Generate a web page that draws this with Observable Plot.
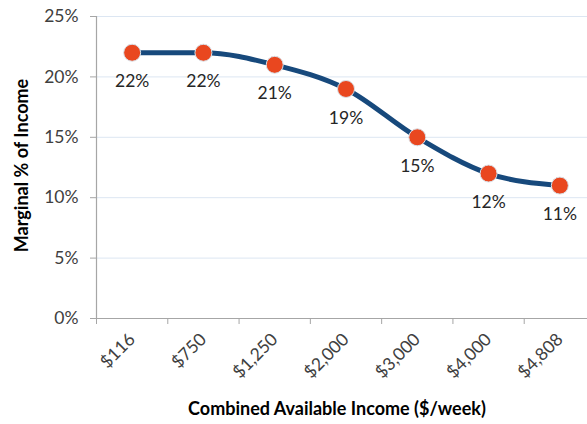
<!DOCTYPE html>
<html>
<head>
<meta charset="utf-8">
<script src="https://cdn.jsdelivr.net/npm/d3@7"></script>
<script src="https://cdn.jsdelivr.net/npm/@observablehq/plot@0.6"></script>
<style>
  html, body { margin: 0; padding: 0; background: #fff; }
  #chart svg { display: block; }
</style>
</head>
<body>
<div id="chart"></div>
<script>
// Combined available income brackets ($/week) and marginal share of income (%)
const incomeBrackets = ["$116", "$750", "$1,250", "$2,000", "$3,000", "$4,000", "$4,808"];
const marginalPct = [22, 22, 21, 19, 15, 12, 11];
const yTicks = [0, 5, 10, 15, 20, 25];
const gridLevels = [5, 10, 15, 20, 25];

// Each bracket sits in the middle of its own slot on an index axis
const rows = incomeBrackets.map((label, i) => ({label, pos: i + 0.5, value: marginalPct[i]}));
const slotEdges = d3.range(incomeBrackets.length + 1);

const font = "Lato, 'Open Sans', sans-serif";
const labelSize = 17.5;

const chart = Plot.plot({
  width: 587,
  height: 424,
  marginTop: 16,
  marginBottom: 106,
  marginLeft: 96,
  marginRight: 0,
  style: {fontFamily: font, fontSize: labelSize + "px", color: "#404040", background: "#fff"},
  x: {domain: [0, incomeBrackets.length], range: [96, 595]},
  y: {domain: [0, 25]},
  marks: [
    // light horizontal gridlines
    Plot.ruleY(gridLevels, {stroke: "#dce6f2", strokeWidth: 1}),
    // baseline and left axis line
    Plot.ruleY([0], {stroke: "#a6a6a6", strokeWidth: 1.2}),
    Plot.ruleX([0], {y1: 0, y2: 25, stroke: "#a6a6a6", strokeWidth: 1.2}),
    // y axis ticks and labels
    Plot.axisY({
      ticks: yTicks,
      tickSize: 6,
      tickPadding: 12,
      stroke: "#a6a6a6",
      tickFormat: d => d + "%",
      fill: "#404040",
      fontSize: labelSize,
      label: null
    }),
    // slot boundary tick marks along the bottom
    Plot.axisX({
      ticks: slotEdges,
      tickSize: 6,
      stroke: "#a6a6a6",
      tickFormat: () => "",
      label: null
    }),
    // rotated bracket labels
    Plot.axisX({
      ticks: rows.map(d => d.pos),
      tickSize: 0,
      tickPadding: 18,
      tickRotate: -45,
      tickFormat: p => incomeBrackets[Math.floor(p)],
      fill: "#404040",
      fontSize: labelSize,
      label: null
    }),
    // the series
    Plot.line(rows, {x: "pos", y: "value", stroke: "#17497c", strokeWidth: 5, curve: "monotone-x"}),
    Plot.dot(rows, {x: "pos", y: "value", r: 8.5, fill: "#e9471f", stroke: "#d9e2ea", strokeWidth: 1}),
    Plot.text(rows, {x: "pos", y: "value", text: d => d.value + "%", dy: 29, fill: "#262626", fontSize: labelSize}),
    // axis titles
    Plot.text(["Marginal % of Income"], {
      frameAnchor: "left", dx: -74, dy: -2, rotate: -90, textAnchor: "middle",
      fontWeight: "bold", fontSize: 18, fill: "#000"
    }),
    Plot.text(["Combined Available Income ($/week)"], {
      frameAnchor: "bottom", dy: 96, dx: -5,
      fontWeight: "bold", fontSize: 18, fill: "#000"
    })
  ]
});

document.getElementById("chart").appendChild(chart);
</script>
</body>
</html>
